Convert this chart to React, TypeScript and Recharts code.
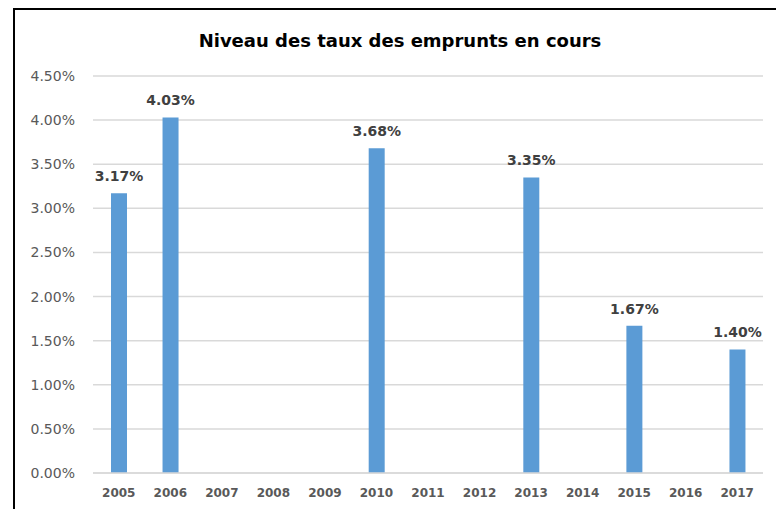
import React from "react";
import { BarChart, Bar, XAxis, YAxis, CartesianGrid, LabelList } from "recharts";

const years = ["2005", "2006", "2007", "2008", "2009", "2010", "2011", "2012", "2013", "2014", "2015", "2016", "2017"];
const rates: (number | null)[] = [3.17, 4.03, null, null, null, 3.68, null, null, 3.35, null, 1.67, null, 1.4];
const yTicks = [0, 0.5, 1, 1.5, 2, 2.5, 3, 3.5, 4, 4.5];

const data = years.map((year, i) => ({ year, rate: rates[i] }));

export default function App() {
  return (
    <div
      style={{
        position: "absolute",
        left: 0,
        top: 0,
        width: 776,
        height: 509,
        overflow: "hidden",
        background: "#fff",
      }}
    >
      {/* frame: only top and left edges are visible in the original */}
      <div
        style={{
          position: "absolute",
          left: 13,
          top: 8,
          width: 900,
          height: 700,
          borderTop: "2px solid #000",
          borderLeft: "2px solid #000",
        }}
      />
      <div
        style={{
          position: "absolute",
          left: 0,
          top: 30,
          width: 800,
          textAlign: "center",
          fontFamily: "DejaVu Sans",
          fontWeight: "bold",
          fontSize: 18,
          color: "#000",
          lineHeight: "22px",
        }}
      >
        Niveau des taux des emprunts en cours
      </div>
      <div style={{ position: "absolute", left: 0, top: 0 }}>
        <BarChart width={776} height={509} data={data} margin={{ top: 76, right: 13, bottom: 0, left: 0 }}>
          <CartesianGrid vertical={false} stroke="#d9d9d9" strokeWidth={1.5} />
          <XAxis
            dataKey="year"
            height={36}
            tickLine={false}
            axisLine={{ stroke: "#d9d9d9", strokeWidth: 1.5 }}
            tickSize={0}
            tickMargin={15}
            interval={0}
            tick={{ fontFamily: "DejaVu Sans", fontWeight: "bold", fontSize: 12, fill: "#595959" }}
          />
          <YAxis
            width={93}
            domain={[0, 4.5]}
            ticks={yTicks}
            tickFormatter={(v: number) => `${v.toFixed(2)}%`}
            axisLine={false}
            tickLine={false}
            tickSize={0}
            tickMargin={18}
            tick={{ fontFamily: "DejaVu Sans", fontSize: 14, fill: "#595959" }}
          />
          <Bar dataKey="rate" fill="#5b9bd5" barSize={16} isAnimationActive={false}>
            <LabelList
              dataKey="rate"
              position="top"
              offset={12}
              formatter={(v: any) => (v == null ? "" : `${Number(v).toFixed(2)}%`)}
              style={{ fontFamily: "DejaVu Sans", fontWeight: "bold", fontSize: 14, fill: "#404040" }}
            />
          </Bar>
        </BarChart>
      </div>
    </div>
  );
}
